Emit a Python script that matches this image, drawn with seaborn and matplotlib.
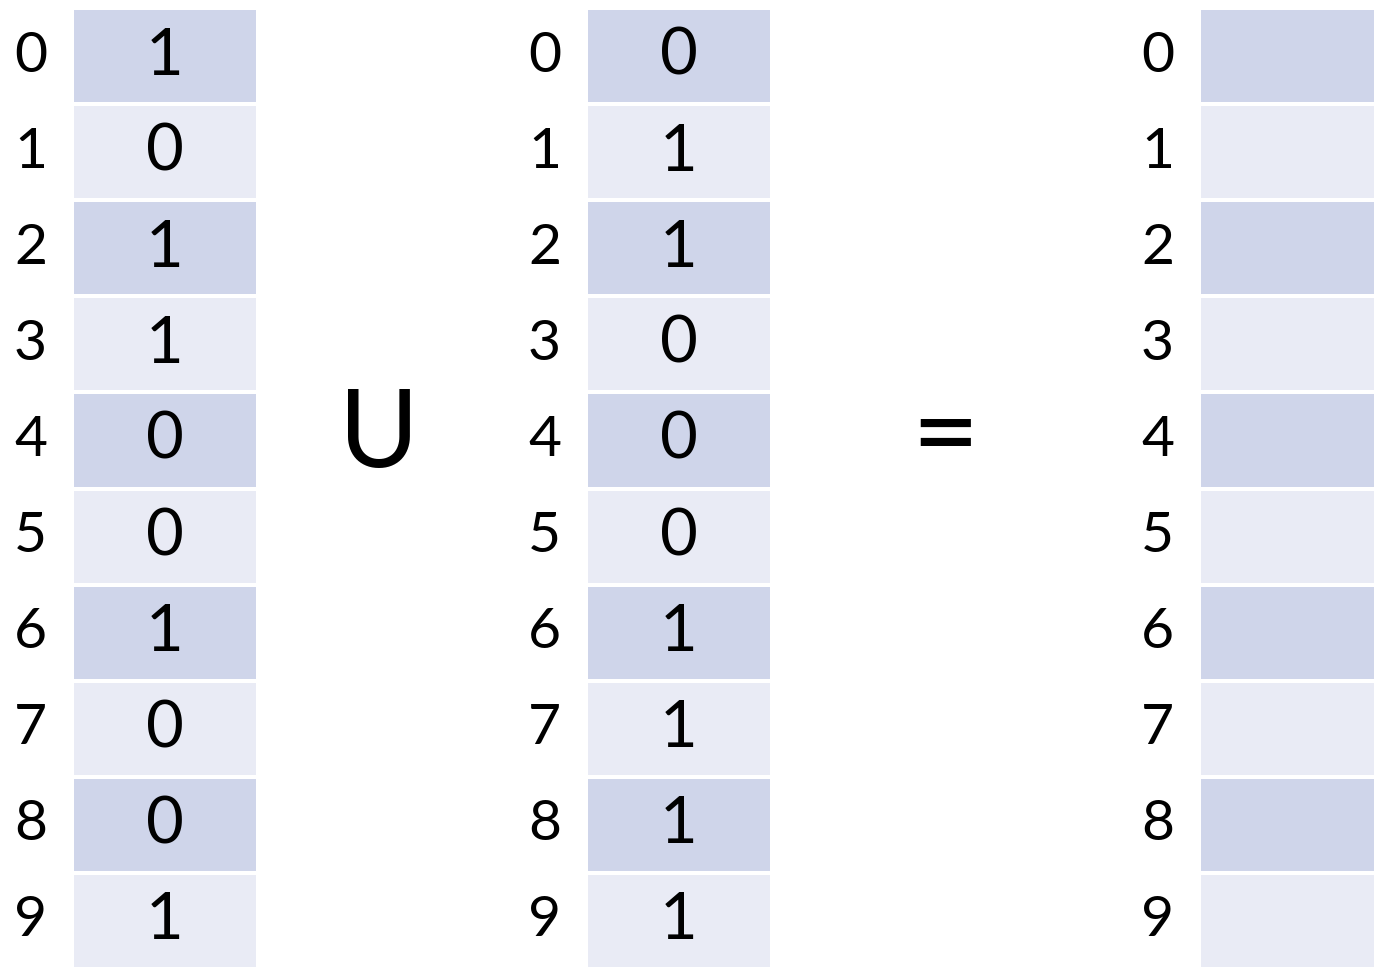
import numpy as np
import matplotlib
matplotlib.use("Agg")
import matplotlib.pyplot as plt
import seaborn as sns
from matplotlib.colors import ListedColormap

# --------------------------------------------------
# Data
# --------------------------------------------------

index_labels = ["0", "1", "2", "3", "4", "5", "6", "7", "8", "9"]
set_a = [1, 0, 1, 1, 0, 0, 1, 0, 0, 1]
set_b = [0, 1, 1, 0, 0, 0, 1, 1, 1, 1]
result = ["", "", "", "", "", "", "", "", "", ""]

row_shade = [i % 2 for i in range(len(index_labels))]

DARK = "#CFD5EA"
LIGHT = "#E9EBF5"
FONT = ["Lato", "DejaVu Sans"]

sns.set_theme(style="white")
plt.rcParams["font.family"] = FONT

W, H = 1374, 967
fig = plt.figure(figsize=(W / 100, H / 100), dpi=100)
fig.patch.set_facecolor("white")


def draw_column(left, right, values, top=8, bottom=969):
    ax = fig.add_axes([
        left / W,
        1 - bottom / H,
        (right - left) / W,
        (bottom - top) / H
    ])

    shade = np.array(row_shade).reshape(-1, 1)
    annot = np.array([str(v) for v in values]).reshape(-1, 1)

    sns.heatmap(
        shade,
        ax=ax,
        cmap=ListedColormap([DARK, LIGHT]),
        vmin=0,
        vmax=1,
        cbar=False,
        annot=annot,
        fmt="",
        annot_kws={"fontsize": 47, "color": "black", "family": FONT},
        linewidths=1.6,
        linecolor="white",
        xticklabels=False,
        yticklabels=index_labels
    )

    ax.tick_params(axis="y", length=0, pad=18, labelsize=41, labelcolor="black")
    for lbl in ax.get_yticklabels():
        lbl.set_rotation(0)
        lbl.set_family(FONT)
    ax.set_xlabel("")
    ax.set_ylabel("")
    return ax


draw_column(72, 258, set_a)
draw_column(586, 772, set_b)
draw_column(1199, 1376, result)

# operators
fig.text(379 / W, 1 - 437 / H, "U", ha="center", va="center",
         fontsize=78, family=FONT, color="black")
fig.text(945 / W, 1 - 440 / H, "=", ha="center", va="center",
         fontsize=84, family=FONT, color="black")

fig.savefig("out.png", dpi=100, facecolor="white")
